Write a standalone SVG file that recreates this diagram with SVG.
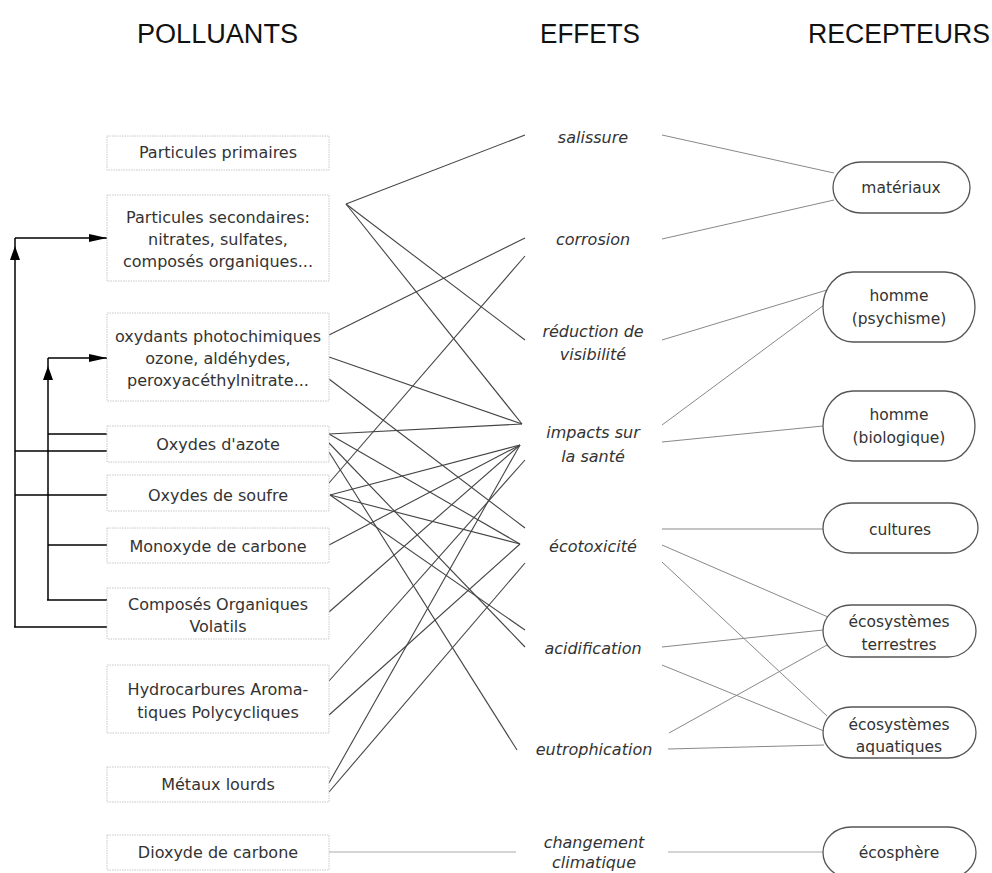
<svg xmlns="http://www.w3.org/2000/svg" width="992" height="873" viewBox="0 0 992 873">
<defs>
<style>
.title{font-family:"Liberation Sans",Arial,sans-serif;font-size:27px;fill:#111;text-anchor:middle}
.box{fill:#fff;stroke:#c8c8c8;stroke-width:1;stroke-dasharray:1.5,1}
.bt{font-family:"DejaVu Sans",sans-serif;font-size:16px;fill:#333;text-anchor:middle}
.et{font-family:"DejaVu Sans",sans-serif;font-size:16px;font-style:italic;fill:#333;text-anchor:middle}
.rec{fill:#fff;stroke:#555;stroke-width:1.3}
.rt{font-family:"DejaVu Sans",sans-serif;font-size:15.5px;fill:#333;text-anchor:middle}
.mid line{stroke:#444;stroke-width:1.1}
.right line{stroke:#888;stroke-width:1}
.arr{stroke:#000;stroke-width:1.5;fill:none}
</style>
<marker id="ah" markerUnits="userSpaceOnUse" markerWidth="18" markerHeight="8" refX="18" refY="4" orient="auto"><path d="M0,0 L18,4 L0,8 z" fill="#000"/></marker>
<marker id="av" markerUnits="userSpaceOnUse" markerWidth="14" markerHeight="10" refX="10" refY="5" orient="auto"><path d="M0,0 L14,5 L0,10 z" fill="#000"/></marker>
</defs>
<rect width="992" height="873" fill="#fff"/>
<g id="titles">
<text class="title" x="217.5" y="43" textLength="161" lengthAdjust="spacingAndGlyphs">POLLUANTS</text>
<text class="title" x="590" y="43" textLength="100" lengthAdjust="spacingAndGlyphs">EFFETS</text>
<text class="title" x="899" y="43" textLength="182" lengthAdjust="spacingAndGlyphs">RECEPTEURS</text>
</g>
<g id="connectors">
<g class="arr">
<line x1="15" y1="627" x2="15" y2="250" marker-end="url(#av)"/>
<line x1="15" y1="238" x2="15" y2="252"/>
<line x1="15" y1="238" x2="107" y2="238" marker-end="url(#ah)"/>
<line x1="48" y1="600" x2="48" y2="370" marker-end="url(#av)"/>
<line x1="48" y1="358" x2="48" y2="372"/>
<line x1="48" y1="358" x2="107" y2="358" marker-end="url(#ah)"/>
<line x1="48" y1="434" x2="107" y2="434"/>
<line x1="15" y1="451" x2="107" y2="451"/>
<line x1="15" y1="495" x2="107" y2="495"/>
<line x1="48" y1="545" x2="107" y2="545"/>
<line x1="47" y1="600" x2="107" y2="600"/>
<line x1="14" y1="627" x2="107" y2="627"/>
</g>
<g class="mid">
<line x1="346" y1="204" x2="525" y2="135"/>
<line x1="346" y1="204" x2="525" y2="340"/>
<line x1="346" y1="204" x2="522" y2="424"/>
<line x1="329" y1="335" x2="525" y2="238"/>
<line x1="329" y1="357" x2="522" y2="424"/>
<line x1="329" y1="379" x2="525" y2="528"/>
<line x1="329" y1="434" x2="522" y2="424"/>
<line x1="329" y1="434" x2="520" y2="544"/>
<line x1="329" y1="443" x2="525" y2="647"/>
<line x1="329" y1="452" x2="517" y2="750"/>
<line x1="329" y1="483" x2="525" y2="256"/>
<line x1="330" y1="495" x2="520" y2="445"/>
<line x1="330" y1="495" x2="520" y2="544"/>
<line x1="330" y1="495" x2="525" y2="630"/>
<line x1="329" y1="545" x2="520" y2="445"/>
<line x1="329" y1="612" x2="520" y2="445"/>
<line x1="329" y1="681" x2="525" y2="460"/>
<line x1="329" y1="715" x2="520" y2="544"/>
<line x1="329" y1="783" x2="520" y2="445"/>
<line x1="329" y1="792" x2="525" y2="563"/>
<line x1="329" y1="852" x2="516" y2="852" style="stroke:#aaa"/>
</g>
<g class="right">
<line x1="662" y1="135" x2="834" y2="173"/>
<line x1="662" y1="239" x2="834" y2="200"/>
<line x1="662" y1="340" x2="827" y2="290"/>
<line x1="662" y1="425" x2="824" y2="305"/>
<line x1="662" y1="442" x2="823" y2="426"/>
<line x1="662" y1="529" x2="823" y2="529"/>
<line x1="662" y1="545" x2="828" y2="617"/>
<line x1="662" y1="562" x2="827" y2="716"/>
<line x1="662" y1="647" x2="823" y2="630"/>
<line x1="662" y1="665" x2="824" y2="731"/>
<line x1="669" y1="733" x2="827" y2="645"/>
<line x1="668" y1="749" x2="824" y2="745"/>
<line x1="668" y1="852" x2="823" y2="852" style="stroke:#aaa"/>
</g>
</g>
<g id="polluants">
<g id="p-primaires"><rect class="box" x="107" y="136" width="222" height="34"/><text class="bt" x="218" y="158">Particules primaires</text></g>
<g id="p-secondaires"><rect class="box" x="107" y="195" width="222" height="86"/><text class="bt" x="218" y="223">Particules secondaires:</text><text class="bt" x="218" y="245">nitrates, sulfates,</text><text class="bt" x="218" y="267">composés organiques...</text></g>
<g id="p-oxydants"><rect class="box" x="107" y="313" width="222" height="88"/><text class="bt" x="218" y="342">oxydants photochimiques</text><text class="bt" x="218" y="364">ozone, aldéhydes,</text><text class="bt" x="218" y="386">peroxyacéthylnitrate...</text></g>
<g id="p-nox"><rect class="box" x="107" y="426" width="222" height="36"/><text class="bt" x="218" y="450">Oxydes d'azote</text></g>
<g id="p-sox"><rect class="box" x="107" y="475" width="222" height="36"/><text class="bt" x="218" y="501">Oxydes de soufre</text></g>
<g id="p-co"><rect class="box" x="107" y="528" width="222" height="35"/><text class="bt" x="218" y="552">Monoxyde de carbone</text></g>
<g id="p-cov"><rect class="box" x="107" y="588" width="222" height="51"/><text class="bt" x="218" y="610">Composés Organiques</text><text class="bt" x="218" y="632">Volatils</text></g>
<g id="p-hap"><rect class="box" x="107" y="665" width="222" height="68"/><text class="bt" x="218" y="695">Hydrocarbures Aroma-</text><text class="bt" x="218" y="718">tiques Polycycliques</text></g>
<g id="p-metaux"><rect class="box" x="107" y="767" width="222" height="35"/><text class="bt" x="218" y="790">Métaux lourds</text></g>
<g id="p-co2"><rect class="box" x="107" y="835" width="222" height="35"/><text class="bt" x="218" y="858">Dioxyde de carbone</text></g>
</g>
<g id="effets">
<g id="e-salissure"><text class="et" x="593" y="143">salissure</text></g>
<g id="e-corrosion"><text class="et" x="593" y="245">corrosion</text></g>
<g id="e-visibilite"><text class="et" x="593" y="337">réduction de</text><text class="et" x="593" y="360">visibilité</text></g>
<g id="e-sante"><text class="et" x="593" y="438">impacts sur</text><text class="et" x="593" y="462">la santé</text></g>
<g id="e-ecotox"><text class="et" x="593" y="552">écotoxicité</text></g>
<g id="e-acid"><text class="et" x="593" y="654">acidification</text></g>
<g id="e-eutro"><text class="et" x="594" y="755">eutrophication</text></g>
<g id="e-climat"><text class="et" x="594" y="848">changement</text><text class="et" x="594" y="868">climatique</text></g>
</g>
<g id="recepteurs">
<g id="r-materiaux"><rect class="rec" x="833" y="162" width="137" height="51" rx="28" ry="25.5"/><text class="rt" x="901" y="193">matériaux</text></g>
<g id="r-psy"><rect class="rec" x="823" y="272" width="152" height="70" rx="30" ry="35"/><text class="rt" x="899" y="301">homme</text><text class="rt" x="899" y="324">(psychisme)</text></g>
<g id="r-bio"><rect class="rec" x="823" y="391" width="152" height="70" rx="30" ry="35"/><text class="rt" x="899" y="420">homme</text><text class="rt" x="899" y="443">(biologique)</text></g>
<g id="r-cultures"><rect class="rec" x="823" y="503" width="155" height="50" rx="28" ry="25"/><text class="rt" x="900" y="535">cultures</text></g>
<g id="r-terr"><rect class="rec" x="823" y="605" width="153" height="52" rx="28" ry="26"/><text class="rt" x="899" y="627">écosystèmes</text><text class="rt" x="899" y="650">terrestres</text></g>
<g id="r-aqua"><rect class="rec" x="823" y="707" width="153" height="51" rx="28" ry="25.5"/><text class="rt" x="899" y="730">écosystèmes</text><text class="rt" x="899" y="752">aquatiques</text></g>
<g id="r-eco"><rect class="rec" x="823" y="827" width="153" height="51" rx="28" ry="25.5"/><text class="rt" x="899" y="858">écosphère</text></g>
</g>
</svg>
